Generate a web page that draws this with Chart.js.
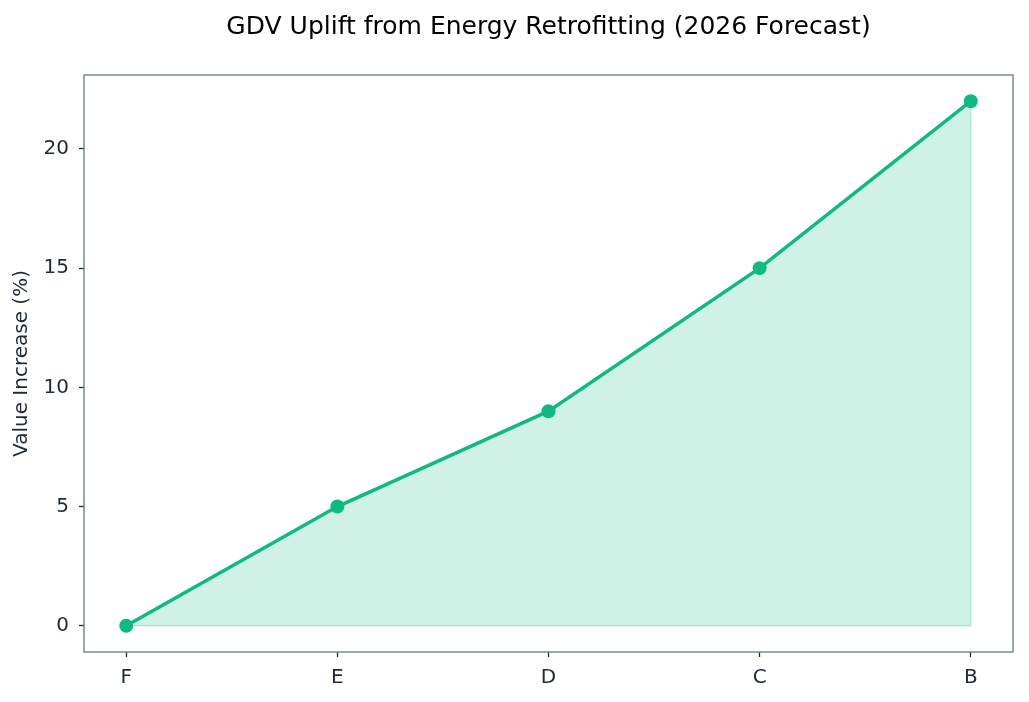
<!DOCTYPE html>
<html>
<head>
<meta charset="utf-8">
<script src="https://cdn.jsdelivr.net/npm/chart.js@4"></script>
<style>
  html, body { margin: 0; padding: 0; background: #fff; }
  #wrap { width: 1029px; height: 702px; }
</style>
</head>
<body>
<div id="wrap"><canvas id="chart" width="1029" height="702"></canvas></div>
<script>
// Data
const ratings = ['F', 'E', 'D', 'C', 'B'];
const uplift = [0, 5, 9, 15, 22];
const yTicks = [0, 5, 10, 15, 20];

const lineColor = '#10b981';
const spineColor = '#708090';
const textColor = '#1e293b';
const fontFamily = "'DejaVu Sans', sans-serif";

const points = uplift.map((v, i) => ({ x: i, y: v }));
// outline of the shaded area (bottom edge and right edge)
const last = ratings.length - 1;
const edge = [{ x: 0, y: 0 }, { x: last, y: 0 }, { x: last, y: uplift[last] }];

// frame around the plot area
const frame = {
    id: 'frame',
    afterDatasetsDraw(chart) {
        const { ctx, chartArea: a } = chart;
        ctx.save();
        ctx.strokeStyle = spineColor;
        ctx.lineWidth = 1.4;
        ctx.strokeRect(a.left, a.top, a.right - a.left, a.bottom - a.top);
        ctx.restore();
    }
};

const ctx = document.getElementById('chart').getContext('2d');
new Chart(ctx, {
    type: 'line',
    data: {
        datasets: [{
            data: points,
            borderColor: lineColor,
            backgroundColor: 'rgba(16, 185, 129, 0.2)',
            borderWidth: 3.5,
            pointRadius: 7,
            pointBackgroundColor: lineColor,
            pointBorderWidth: 0,
            fill: 'origin',
            tension: 0,
            order: 1
        }, {
            data: edge,
            borderColor: 'rgba(16, 185, 129, 0.25)',
            borderWidth: 1.5,
            pointRadius: 0,
            fill: false,
            order: 2
        }]
    },
    plugins: [frame],
    options: {
        responsive: false,
        animation: false,
        layout: { padding: { top: 0, right: 16, left: 0, bottom: 0 } },
        plugins: {
            legend: { display: false },
            tooltip: { enabled: false },
            title: {
                display: true,
                fullSize: false,
                text: 'GDV Uplift from Energy Retrofitting (2026 Forecast)',
                color: '#000',
                font: { family: fontFamily, size: 25, weight: 'normal' },
                padding: { top: 12, bottom: 33 }
            }
        },
        scales: {
            x: {
                type: 'linear',
                min: -0.2,
                max: 4.2,
                afterBuildTicks: s => { s.ticks = ratings.map((_, i) => ({ value: i })); },
                afterFit: s => { s.height = 50; },
                ticks: {
                    color: textColor,
                    font: { family: fontFamily, size: 20 },
                    padding: 9,
                    maxRotation: 0,
                    callback: v => ratings[v]
                },
                grid: { drawOnChartArea: false, tickLength: 5, tickColor: textColor, tickWidth: 1.3 },
                border: { display: false }
            },
            y: {
                min: -1.1,
                max: 23.1,
                afterBuildTicks: s => { s.ticks = yTicks.map(v => ({ value: v })); },
                afterFit: s => { s.width = 84; },
                ticks: {
                    color: textColor,
                    font: { family: fontFamily, size: 20 },
                    padding: 10
                },
                grid: { drawOnChartArea: false, tickLength: 5, tickColor: textColor, tickWidth: 1.3 },
                border: { display: false },
                title: {
                    display: true,
                    text: 'Value Increase (%)',
                    color: textColor,
                    font: { family: fontFamily, size: 20 },
                    padding: { top: 10, bottom: 4 }
                }
            }
        }
    }
});
</script>
</body>
</html>
